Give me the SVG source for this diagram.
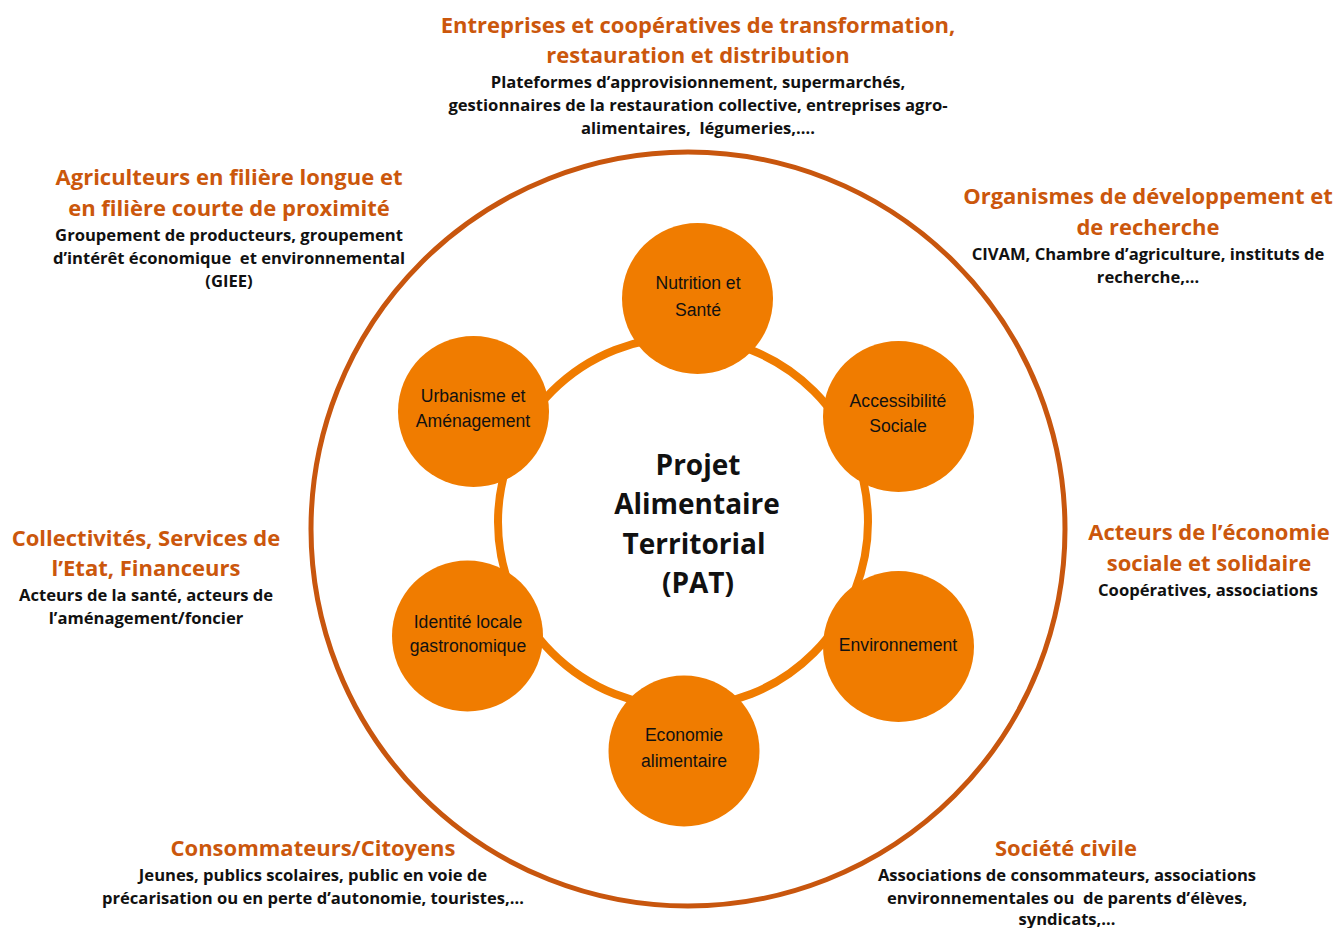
<svg xmlns="http://www.w3.org/2000/svg" width="1335" height="928" viewBox="0 0 1335 928">
<style>
.t{font-family:"Open Sans","DejaVu Sans",sans-serif;font-weight:700;font-size:22px;fill:#CB570C;text-anchor:middle}
.s{font-family:"Open Sans","DejaVu Sans",sans-serif;font-weight:700;font-size:16.6px;fill:#111;text-anchor:middle;white-space:pre}
.n{font-family:"Liberation Sans",Arial,sans-serif;font-size:17.6px;fill:#111;text-anchor:middle}
.c{fill:#F07C00}
.pat{font-family:"Open Sans","DejaVu Sans",sans-serif;font-weight:700;font-size:28px;fill:#111;text-anchor:middle}
</style>
<rect width="1335" height="928" fill="#fff"/>
<g id="connectors">
<circle cx="688" cy="529" r="377" fill="none" stroke="#C8560E" stroke-width="5"/>
<circle cx="683" cy="522" r="185" fill="none" stroke="#F07C00" stroke-width="8"/>
</g>
<g id="center">
<text class="pat" x="698" y="475">Projet</text>
<text class="pat" x="697" y="514">Alimentaire</text>
<text class="pat" x="694" y="554">Territorial</text>
<text class="pat" x="698" y="593">(PAT)</text>
</g>
<g id="node-nutrition"><circle class="c" cx="697.5" cy="298.5" r="75.5"/><text class="n" x="698" y="289">Nutrition et</text><text class="n" x="698" y="316">Santé</text></g>
<g id="node-urbanisme"><circle class="c" cx="473.5" cy="411.5" r="75.5"/><text class="n" x="473" y="402">Urbanisme et</text><text class="n" x="473" y="427">Aménagement</text></g>
<g id="node-accessibilite"><circle class="c" cx="898.5" cy="416.5" r="75.5"/><text class="n" x="898" y="407">Accessibilité</text><text class="n" x="898" y="432">Sociale</text></g>
<g id="node-identite"><circle class="c" cx="467.5" cy="636" r="75.5"/><text class="n" x="468" y="628">Identité locale</text><text class="n" x="468" y="652">gastronomique</text></g>
<g id="node-environnement"><circle class="c" cx="898.5" cy="646.5" r="75.5"/><text class="n" x="898" y="651">Environnement</text></g>
<g id="node-economie"><circle class="c" cx="684" cy="751" r="75.5"/><text class="n" x="684" y="741">Economie</text><text class="n" x="684" y="767">alimentaire</text></g>
<g id="actor-entreprises">
<text class="t" x="698" y="33">Entreprises et coopératives de transformation,</text>
<text class="t" x="698" y="63">restauration et distribution</text>
<text class="s" x="698" y="88">Plateformes d’approvisionnement, supermarchés,</text>
<text class="s" x="698" y="111">gestionnaires de la restauration collective, entreprises agro-</text>
<text class="s" x="698" y="134">alimentaires,  légumeries,….</text>
</g>
<g id="actor-agriculteurs">
<text class="t" x="229" y="185">Agriculteurs en filière longue et</text>
<text class="t" x="229" y="216">en filière courte de proximité</text>
<text class="s" x="229" y="241">Groupement de producteurs, groupement</text>
<text class="s" x="229" y="264">d’intérêt économique  et environnemental</text>
<text class="s" x="229" y="287">(GIEE)</text>
</g>
<g id="actor-organismes">
<text class="t" x="1148" y="204">Organismes de développement et</text>
<text class="t" x="1148" y="235">de recherche</text>
<text class="s" x="1148" y="260">CIVAM, Chambre d’agriculture, instituts de</text>
<text class="s" x="1148" y="283">recherche,…</text>
</g>
<g id="actor-collectivites">
<text class="t" x="146" y="546">Collectivités, Services de</text>
<text class="t" x="146" y="576">l’Etat, Financeurs</text>
<text class="s" x="146" y="601">Acteurs de la santé, acteurs de</text>
<text class="s" x="146" y="624">l’aménagement/foncier</text>
</g>
<g id="actor-ess">
<text class="t" x="1209" y="540">Acteurs de l’économie</text>
<text class="t" x="1209" y="571">sociale et solidaire</text>
<text class="s" x="1208" y="596">Coopératives, associations</text>
</g>
<g id="actor-consommateurs">
<text class="t" x="313" y="856">Consommateurs/Citoyens</text>
<text class="s" x="313" y="881">Jeunes, publics scolaires, public en voie de</text>
<text class="s" x="313" y="904">précarisation ou en perte d’autonomie, touristes,…</text>
</g>
<g id="actor-societe">
<text class="t" x="1066" y="856">Société civile</text>
<text class="s" x="1067" y="881">Associations de consommateurs, associations</text>
<text class="s" x="1067" y="904">environnementales ou  de parents d’élèves,</text>
<text class="s" x="1067" y="925">syndicats,…</text>
</g>
</svg>
